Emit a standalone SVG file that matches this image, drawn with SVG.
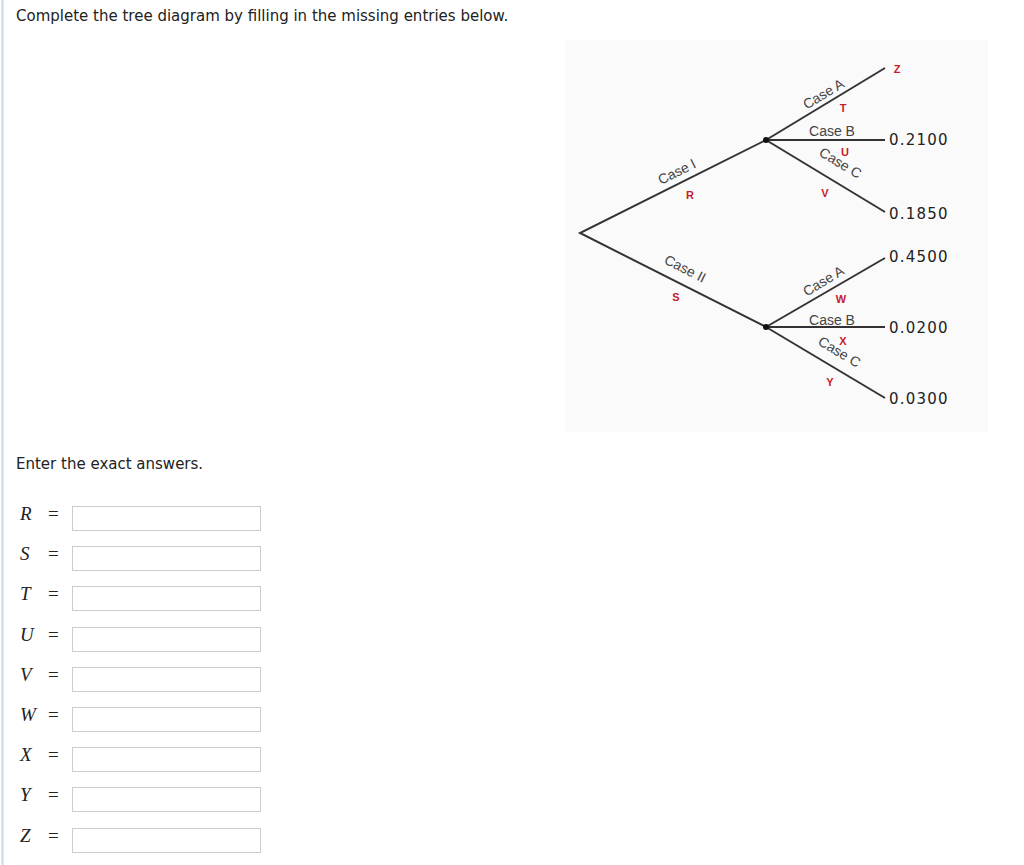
<svg xmlns="http://www.w3.org/2000/svg" width="1024" height="865" viewBox="0 0 1024 865">
<style>
.t{font-family:Verdana,"DejaVu Sans",sans-serif;font-size:15px;fill:#222}
.c{font-family:"Liberation Sans",Arial,sans-serif;font-size:14px;fill:#444}
.r{font-family:"Liberation Sans",Arial,sans-serif;font-size:11px;font-weight:bold;fill:#c8202a}
.v{font-family:"DejaVu Sans",sans-serif;font-size:15px;fill:#222;letter-spacing:1.2px}
.l{stroke:#333;stroke-width:2;fill:none}
.m{font-family:"Liberation Serif",serif;font-size:19px;font-style:italic;fill:#222}
.e{font-family:"Liberation Serif",serif;font-size:19px;fill:#222}
.b{fill:#fff;stroke:#ccc;stroke-width:1}
</style>
<rect width="1024" height="865" fill="#fff"/>
<line x1="2.5" y1="0" x2="2.5" y2="865" stroke="#c9d6e4" stroke-width="2"/>
<text class="t" x="16" y="21">Complete the tree diagram by filling in the missing entries below.</text>
<rect x="565" y="40" width="423" height="392" fill="#fafafa"/>
<g id="connectors">
<polyline class="l" points="766,140 580,233 766,327"/>
<line class="l" x1="766" y1="140" x2="885" y2="68"/>
<line class="l" x1="766" y1="140" x2="885" y2="140"/>
<line class="l" x1="766" y1="140" x2="885" y2="212"/>
<line class="l" x1="766" y1="327" x2="885" y2="258"/>
<line class="l" x1="766" y1="327" x2="885" y2="327"/>
<line class="l" x1="766" y1="327" x2="885" y2="398"/>
<circle cx="766" cy="140" r="3" fill="#111"/>
<circle cx="766" cy="327" r="3" fill="#111"/>
</g>
<g id="labels">
<text class="c" transform="translate(679,176) rotate(-26.6)" text-anchor="middle">Case I</text>
<text class="r" x="690" y="199" text-anchor="middle">R</text>
<text class="c" transform="translate(683,273) rotate(26.6)" text-anchor="middle">Case II</text>
<text class="r" x="676" y="301" text-anchor="middle">S</text>
<text class="c" transform="translate(826,98) rotate(-31.2)" text-anchor="middle">Case A</text>
<text class="r" x="843" y="112" text-anchor="middle">T</text>
<text class="c" x="832" y="136" text-anchor="middle">Case B</text>
<text class="r" x="845" y="156" text-anchor="middle">U</text>
<text class="c" transform="translate(838,167) rotate(31.2)" text-anchor="middle">Case C</text>
<text class="r" x="825" y="197" text-anchor="middle">V</text>
<text class="r" x="897" y="73" text-anchor="middle">Z</text>
<text class="c" transform="translate(826,285) rotate(-31.2)" text-anchor="middle">Case A</text>
<text class="r" x="841" y="303" text-anchor="middle">W</text>
<text class="c" x="832" y="325" text-anchor="middle">Case B</text>
<text class="r" x="843" y="345" text-anchor="middle">X</text>
<text class="c" transform="translate(837,356) rotate(31.2)" text-anchor="middle">Case C</text>
<text class="r" x="830" y="386" text-anchor="middle">Y</text>
<text class="v" x="889" y="145">0.2100</text>
<text class="v" x="889" y="219">0.1850</text>
<text class="v" x="889" y="262">0.4500</text>
<text class="v" x="889" y="333">0.0200</text>
<text class="v" x="889" y="404">0.0300</text>
</g>
<text class="t" x="16" y="469">Enter the exact answers.</text>
<g id="inputs">
<text class="m" x="20" y="520">R</text><text class="e" x="48" y="520">=</text><rect class="b" x="72.5" y="506.5" width="188" height="24"/>
<text class="m" x="20" y="560">S</text><text class="e" x="48" y="560">=</text><rect class="b" x="72.5" y="546.5" width="188" height="24"/>
<text class="m" x="20" y="600">T</text><text class="e" x="48" y="600">=</text><rect class="b" x="72.5" y="586.5" width="188" height="24"/>
<text class="m" x="20" y="641">U</text><text class="e" x="48" y="641">=</text><rect class="b" x="72.5" y="627.5" width="188" height="24"/>
<text class="m" x="20" y="681">V</text><text class="e" x="48" y="681">=</text><rect class="b" x="72.5" y="667.5" width="188" height="24"/>
<text class="m" x="20" y="721">W</text><text class="e" x="48" y="721">=</text><rect class="b" x="72.5" y="707.5" width="188" height="24"/>
<text class="m" x="20" y="761">X</text><text class="e" x="48" y="761">=</text><rect class="b" x="72.5" y="747.5" width="188" height="24"/>
<text class="m" x="20" y="801">Y</text><text class="e" x="48" y="801">=</text><rect class="b" x="72.5" y="787.5" width="188" height="24"/>
<text class="m" x="20" y="842">Z</text><text class="e" x="48" y="842">=</text><rect class="b" x="72.5" y="828.5" width="188" height="24"/>
</g>
</svg>
